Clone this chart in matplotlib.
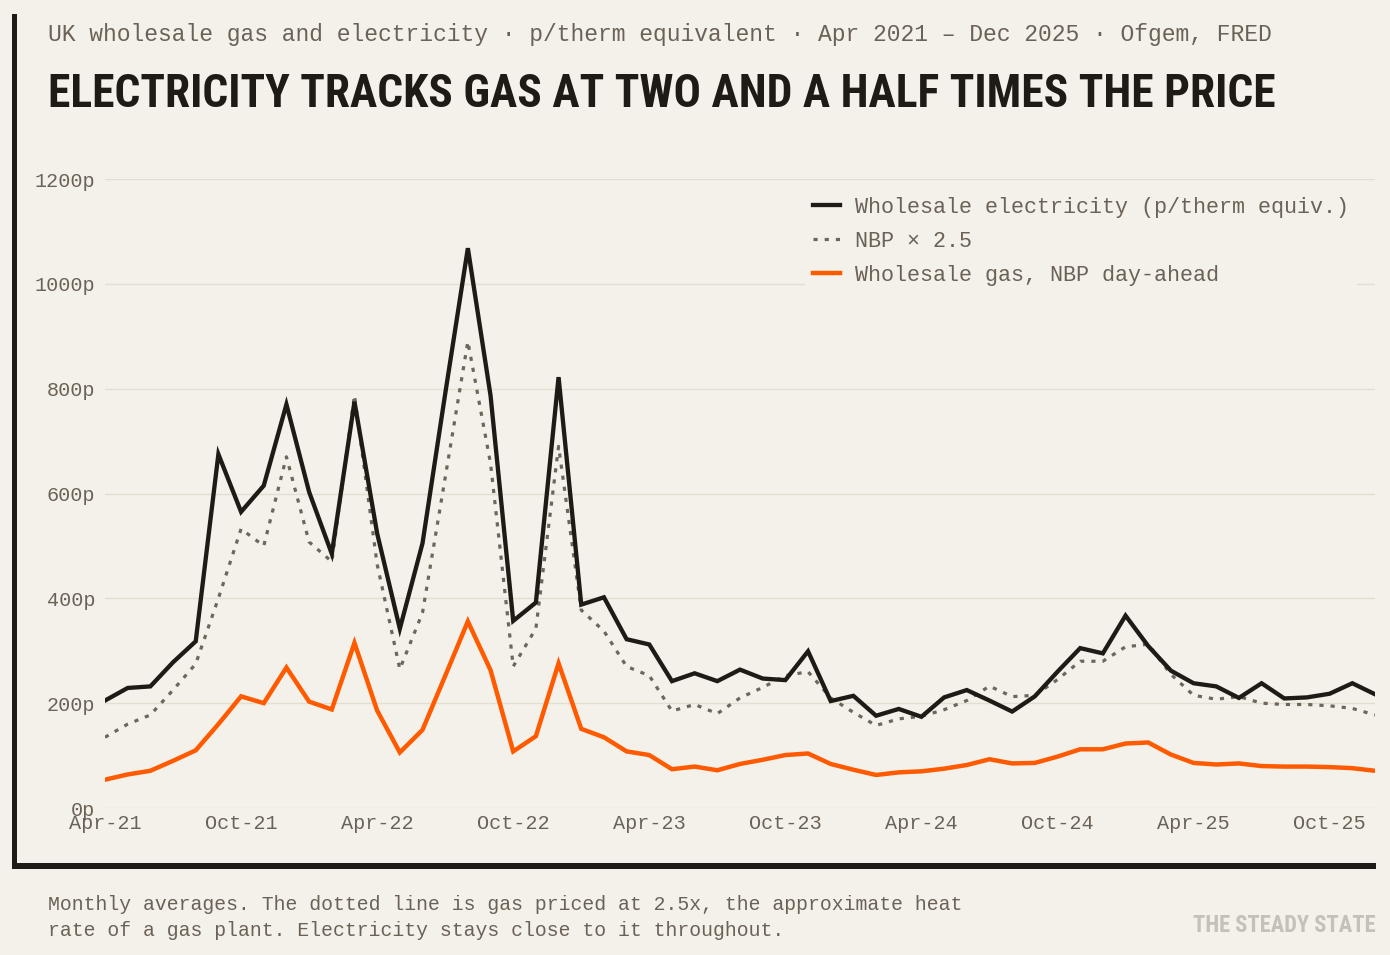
import matplotlib
matplotlib.use("Agg")
import matplotlib.pyplot as plt
from matplotlib.patches import Rectangle
import numpy as np

# monthly averages, Apr 2021 .. Dec 2025, pence per therm (equivalent)
tick_labels = ["Apr-21", "Oct-21", "Apr-22", "Oct-22", "Apr-23", "Oct-23",
               "Apr-24", "Oct-24", "Apr-25", "Oct-25"]
tick_months = [0, 6, 12, 18, 24, 30, 36, 42, 48, 54]

electricity = [205, 229, 232, 278, 318, 675, 565, 615, 770, 603,
               485, 775, 524, 342, 505, 790, 1068, 787, 357, 392,
               822, 388, 402, 322, 312, 242, 257, 242, 264, 247,
               244, 299, 204, 214, 176, 189, 174, 211, 225, 205,
               184, 213, 260, 305, 295, 367, 309, 262, 238, 232,
               210, 238, 209, 211, 218, 238, 217]

gas_nbp = [54, 64, 71, 90, 110, 160, 213, 200, 268, 203,
           188, 315, 186, 106, 149, 252, 356, 263, 108, 137,
           276, 151, 135, 108, 101, 74, 79, 72, 84, 92,
           101, 104, 84, 73, 63, 68, 70, 75, 82, 93,
           85, 86, 98, 112, 112, 123, 125, 102, 86, 83,
           85, 80, 79, 79, 78, 76, 71]

heat_rate = 2.5
y_ticks = [0, 200, 400, 600, 800, 1000, 1200]

BG = "#f4f1ea"
INK = "#1e1a15"
ORANGE = "#ff5a00"
DOT = "#6e655b"
MUTED = "#6b6257"
GRID = "#e2ded2"
MONO = ["Liberation Mono", "DejaVu Sans Mono"]
COND = ["Roboto Condensed", "Liberation Sans Narrow", "Roboto", "DejaVu Sans"]

W, H = 1390, 955
fig = plt.figure(figsize=(W / 100, H / 100), dpi=100, facecolor=BG)

def fx(px):
    return px / W

def fy(py):
    return 1 - py / H

ax = fig.add_axes([fx(105), fy(808), fx(1375) - fx(105), fy(179) - fy(808)])
ax.set_facecolor(BG)

months = np.arange(len(electricity))
nbp_scaled = np.array(gas_nbp) * heat_rate

ax.plot(months, nbp_scaled, color=DOT, lw=2.3, linestyle=(0, (1.3, 2.2)),
        dash_capstyle="butt", label="NBP \u00d7 2.5", zorder=3)
ax.plot(months, gas_nbp, color=ORANGE, lw=3.2, solid_joinstyle="miter",
        label="Wholesale gas, NBP day-ahead", zorder=4)
ax.plot(months, electricity, color=INK, lw=3.1, solid_joinstyle="miter",
        label="Wholesale electricity (p/therm equiv.)", zorder=5)

ax.set_xlim(0, len(electricity) - 1)
ax.set_ylim(0, 1200)
ax.set_yticks(y_ticks)
ax.set_yticklabels([f"{v}p" for v in y_ticks])
ax.set_xticks(tick_months)
ax.set_xticklabels(tick_labels)
ax.grid(axis="y", color=GRID, lw=1.0, zorder=0)
ax.tick_params(length=0, colors=MUTED, labelsize=14.5)
ax.tick_params(axis="y", pad=7)
ax.tick_params(axis="x", pad=4)
for lab in ax.get_xticklabels() + ax.get_yticklabels():
    lab.set_family(MONO)
for s in ax.spines.values():
    s.set_visible(False)

handles, labels = ax.get_legend_handles_labels()
order = [2, 0, 1]
leg = ax.legend([handles[i] for i in order], [labels[i] for i in order],
                loc="upper left", bbox_to_anchor=(fx(805), fy(189)),
                bbox_transform=fig.transFigure, borderaxespad=0,
                borderpad=0.35, handlelength=1.24, handletextpad=0.69,
                labelspacing=0.6, frameon=True, fancybox=False,
                prop={"family": MONO, "size": 15.7})
leg.get_frame().set_facecolor(BG)
leg.get_frame().set_edgecolor(BG)
leg.get_frame().set_alpha(1)
for t in leg.get_texts():
    t.set_color(MUTED)

# frame on the left and bottom
fig.add_artist(Rectangle((fx(12), fy(869)), fx(5), fy(14) - fy(869),
                         transform=fig.transFigure, color=INK, lw=0))
fig.add_artist(Rectangle((fx(12), fy(869)), fx(1376) - fx(12), fy(863) - fy(869),
                         transform=fig.transFigure, color=INK, lw=0))

fig.text(fx(48), fy(34),
         "UK wholesale gas and electricity \u00b7 p/therm equivalent \u00b7 "
         "Apr 2021 \u2013 Dec 2025 \u00b7 Ofgem, FRED",
         family=MONO, size=16.6, color=MUTED, va="center", ha="left")
title = fig.text(fx(48), fy(107),
                 "ELECTRICITY TRACKS GAS AT TWO AND A HALF TIMES THE PRICE",
                 family=COND, weight="bold", stretch="condensed", size=30,
                 color=INK, va="baseline", ha="left")
fig.text(fx(48), fy(895),
         "Monthly averages. The dotted line is gas priced at 2.5x, the approximate heat\n"
         "rate of a gas plant. Electricity stays close to it throughout.",
         family=MONO, size=14.2, color=MUTED, va="top", ha="left",
         linespacing=1.45)
brand = fig.text(fx(1376), fy(932), "THE STEADY STATE", family=COND,
                 weight="bold", stretch="condensed", size=16, color="#c5c1b9",
                 va="baseline", ha="right")

# squeeze the condensed texts to the widths they take in the layout
renderer = fig.canvas.get_renderer()
for txt, target in [(title, 1227), (brand, 183)]:
    w = txt.get_window_extent(renderer).width
    txt.set_fontsize(txt.get_fontsize() * target / w)

fig.savefig("out.png", dpi=100, facecolor=BG)
